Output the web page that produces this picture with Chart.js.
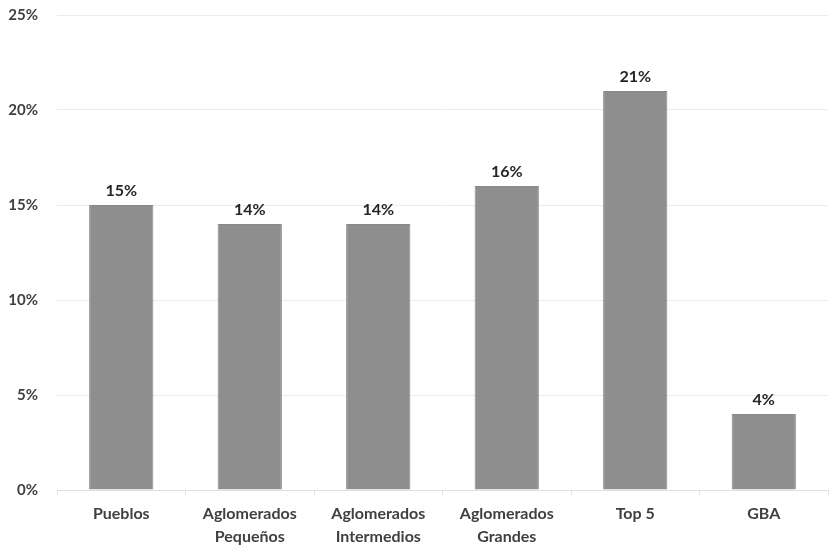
<!DOCTYPE html>
<html>
<head>
<meta charset="utf-8">
<script src="https://cdn.jsdelivr.net/npm/chart.js@4.4.1/dist/chart.umd.min.js"></script>
<style>
  html, body { margin: 0; padding: 0; background: #fff; }
  #wrap { width: 830px; height: 548px; }
</style>
</head>
<body>
<div id="wrap"><canvas id="chart" width="830" height="548"></canvas></div>
<script>
// categories (x axis) and values in percent
const categories = ['Pueblos', ['Aglomerados', 'Pequeños'], ['Aglomerados', 'Intermedios'], ['Aglomerados', 'Grandes'], 'Top 5', 'GBA'];
const shares = [15, 14, 14, 16, 21, 4];
const yTicks = [0, 5, 10, 15, 20, 25];

const fontFamily = 'Lato, "Open Sans", sans-serif';

// values on top of the bars
const barLabels = {
    id: 'barLabels',
    afterDatasetsDraw(chart) {
        const ctx = chart.ctx;
        const meta = chart.getDatasetMeta(0);
        ctx.save();
        ctx.font = 'bold 16px ' + fontFamily;
        ctx.fillStyle = '#262626';
        ctx.textAlign = 'center';
        ctx.textBaseline = 'bottom';
        meta.data.forEach((bar, i) => {
            ctx.fillText(shares[i] + '%', bar.x, bar.y - 6);
        });
        ctx.restore();
    }
};

const ctx = document.getElementById('chart').getContext('2d');
const chart = new Chart(ctx, {
    type: 'bar',
    data: {
        labels: categories,
        datasets: [{
            data: shares,
            backgroundColor: '#8e8e8e',
            borderColor: '#888888',
            borderWidth: 1,
            barPercentage: 0.5,
            categoryPercentage: 1.0
        }]
    },
    options: {
        responsive: false,
        animation: false,
        layout: { padding: { top: 15, right: 2, left: 0, bottom: 0 } },
        plugins: {
            legend: { display: false },
            tooltip: { enabled: false }
        },
        scales: {
            x: {
                grid: {
                    drawOnChartArea: false,
                    drawTicks: true,
                    tickLength: 5,
                    color: '#e0e0e0'
                },
                border: { display: true, color: '#e0e0e0' },
                ticks: {
                    color: '#404040',
                    font: { family: fontFamily, size: 16, weight: 'bold', lineHeight: 1.45 },
                    padding: 7,
                    maxRotation: 0,
                    autoSkip: false
                },
                afterFit(scale) { scale.height = 58; }
            },
            y: {
                min: 0,
                max: 25,
                afterBuildTicks(scale) {
                    scale.ticks = yTicks.map(v => ({ value: v }));
                },
                grid: { color: '#ebebeb', drawTicks: false },
                border: { display: false },
                ticks: {
                    color: '#404040',
                    font: { family: fontFamily, size: 15, weight: 'bold' },
                    padding: 19,
                    callback: v => v + '%'
                },
                afterFit(scale) {
                    scale.width = 57;
                    scale.paddingTop = 0;
                    scale.paddingBottom = 0;
                }
            }
        }
    },
    plugins: [barLabels]
});
</script>
</body>
</html>
